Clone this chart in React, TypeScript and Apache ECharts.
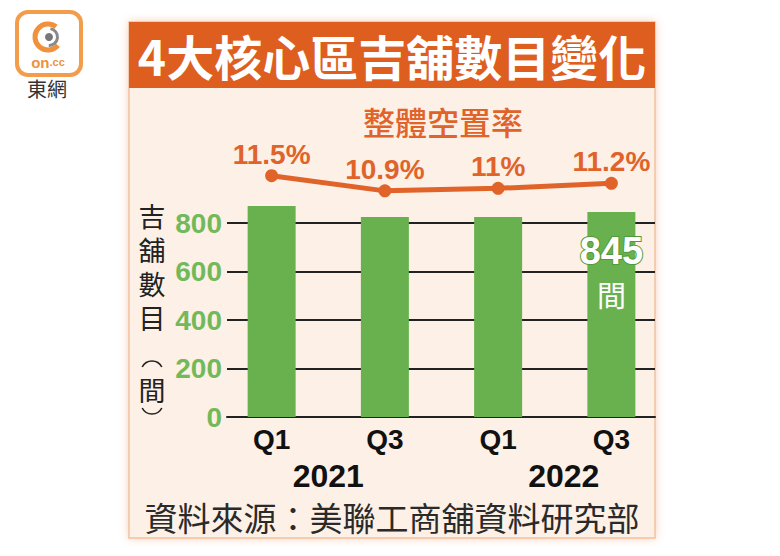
import React, { useEffect, useRef } from "react";
import * as echarts from "echarts";

const categories = ["Q1", "Q3", "Q1", "Q3"];
const years = ["2021", "2022"];
const shopCounts = [870, 825, 825, 845];
const vacancyRates = [11.5, 10.9, 11, 11.2];
const vacancyLabels = ["11.5%", "10.9%", "11%", "11.2%"];
const yMin = 0;
const yMax = 800;
const yStep = 200;
const highlightIndex = 3;
const highlightUnit = "間";

const titleText = "4大核心區吉舖數目變化";
const lineTitle = "整體空置率";
const axisNameChars = ["吉", "舖", "數", "目"];
const axisUnit = "間";
const sourceText = "資料來源：美聯工商舖資料研究部";

const ORANGE = "#dd5e1f";
const LINE_ORANGE = "#e0632a";
const GREEN = "#69b14f";
const LABEL_GREEN = "#72b95a";
const CJK = '"Noto Sans CJK TC", "Noto Sans CJK SC", sans-serif';
const LAT = '"Liberation Sans", Arial, sans-serif';

export default function App() {
  const ref = useRef<HTMLDivElement>(null);
  useEffect(() => {
    document.body.style.margin = "0";
    if (!ref.current) return;
    const chart = echarts.init(ref.current, undefined, { renderer: "svg" });
    const barData = shopCounts.map((v, i) =>
      i === highlightIndex
        ? {
            value: v,
            label: {
              show: true,
              position: "insideTop",
              distance: 18,
              formatter: "{a|" + v + "}\n{b|" + highlightUnit + "}",
              rich: {
                a: {
                  fontFamily: LAT,
                  fontWeight: "bold",
                  fontSize: 38,
                  lineHeight: 42,
                  color: "#fff",
                  textBorderColor: "#4f9a3a",
                  textBorderWidth: 2,
                  align: "center",
                },
                b: {
                  fontFamily: CJK,
                  fontSize: 29,
                  lineHeight: 44,
                  color: "#fff",
                  align: "center",
                },
              },
            },
          }
        : v
    );
    const axisNameTexts = axisNameChars.map((c, i) => ({
      type: "text",
      z: 5,
      x: 152,
      y: 215 + i * 34,
      style: {
        text: c,
        fill: "#222",
        font: "27px " + CJK,
        align: "center",
        verticalAlign: "middle",
      },
    }));
    const yearStyle = {
      fontFamily: LAT,
      fontWeight: "bold",
      fontSize: 32,
      color: "#111",
    };
    chart.setOption({
      animation: false,
      backgroundColor: "#ffffff",
      grid: [
        { left: 215, right: 112, top: 223, bottom: 139 },
        { left: 227, right: 125, top: 223, bottom: 139 },
        { left: 215, right: 112, top: 163, bottom: 355 },
        { left: 215, right: 112, top: 223, bottom: 139 },
      ],
      xAxis: [
        {
          type: "category",
          gridIndex: 0,
          data: categories,
          axisLine: { show: false },
          axisTick: { show: false },
          axisLabel: {
            margin: 8,
            fontFamily: LAT,
            fontWeight: "bold",
            fontSize: 28,
            color: "#111",
          },
        },
        {
          type: "value",
          gridIndex: 1,
          min: 0,
          max: 1,
          axisLine: { show: true, onZero: false, lineStyle: { color: "#222", width: 2 } },
          axisTick: { show: false },
          axisLabel: { show: false },
          splitLine: { show: false },
        },
        { type: "category", gridIndex: 2, data: categories, show: false },
        {
          type: "category",
          gridIndex: 3,
          data: years,
          axisLine: { show: false },
          axisTick: { show: false },
          axisLabel: {
            margin: 43,
            formatter: (v: string, i: number) => (i === 0 ? "{a|" + v + "}" : "{b|" + v + "}"),
            rich: {
              a: { ...yearStyle },
              b: { ...yearStyle, padding: [0, 0, 0, 18] },
            },
          },
        },
      ],
      yAxis: [
        { type: "value", gridIndex: 0, min: yMin, max: yMax, show: false },
        {
          type: "value",
          gridIndex: 1,
          min: yMin,
          max: yMax,
          interval: yStep,
          axisLine: { show: false },
          axisTick: { show: false },
          axisLabel: {
            margin: 5,
            fontFamily: LAT,
            fontWeight: "bold",
            fontSize: 28,
            color: LABEL_GREEN,
          },
          splitLine: { show: true, lineStyle: { color: "#222", width: 2 } },
        },
        { type: "value", gridIndex: 2, min: 10.5, max: 12, show: false },
        { type: "value", gridIndex: 3, min: 0, max: 1, show: false },
      ],
      series: [
        {
          type: "bar",
          xAxisIndex: 0,
          yAxisIndex: 0,
          data: barData,
          barWidth: 48,
          clip: false,
          itemStyle: { color: GREEN },
          z: 3,
        },
        {
          type: "line",
          xAxisIndex: 2,
          yAxisIndex: 2,
          data: vacancyRates,
          symbol: "circle",
          symbolSize: 13,
          clip: false,
          lineStyle: { color: LINE_ORANGE, width: 5 },
          itemStyle: { color: LINE_ORANGE },
          label: {
            show: true,
            position: "top",
            distance: 1,
            formatter: (p: any) => vacancyLabels[p.dataIndex],
            fontFamily: LAT,
            fontWeight: "bold",
            fontSize: 28,
            color: LINE_ORANGE,
          },
          z: 4,
        },
      ],
      graphic: [
        {
          type: "rect",
          z: -10,
          shape: { x: 129, y: 22, width: 526, height: 516 },
          style: {
            fill: "#fdf0e6",
            stroke: "#f2c2a0",
            lineWidth: 1.5,
            shadowBlur: 8,
            shadowColor: "rgba(240,150,100,0.45)",
          },
        },
        {
          type: "rect",
          z: -9,
          shape: { x: 129, y: 22, width: 526, height: 66 },
          style: { fill: ORANGE },
        },
        {
          type: "text",
          z: 5,
          x: 392,
          y: 55,
          style: {
            text: titleText,
            fill: "#fff",
            font: "bold 48px " + CJK,
            align: "center",
            verticalAlign: "middle",
          },
        },
        {
          type: "text",
          z: 5,
          x: 443,
          y: 121,
          style: {
            text: lineTitle,
            fill: LINE_ORANGE,
            font: "500 32px " + CJK,
            align: "center",
            verticalAlign: "middle",
          },
        },
        ...axisNameTexts,
        {
          type: "arc",
          z: 5,
          shape: { cx: 152, cy: 372, r: 11, startAngle: Math.PI * 1.15, endAngle: Math.PI * 1.85 },
          style: { stroke: "#222", lineWidth: 1.6, fill: null },
        },
        {
          type: "text",
          z: 5,
          x: 152,
          y: 389,
          style: {
            text: axisUnit,
            fill: "#222",
            font: "27px " + CJK,
            align: "center",
            verticalAlign: "middle",
          },
        },
        {
          type: "arc",
          z: 5,
          shape: { cx: 152, cy: 403, r: 11, startAngle: Math.PI * 0.15, endAngle: Math.PI * 0.85 },
          style: { stroke: "#222", lineWidth: 1.6, fill: null },
        },
        {
          type: "text",
          z: 5,
          x: 392,
          y: 517,
          style: {
            text: sourceText,
            fill: "#2a2a2a",
            font: "33px " + CJK,
            align: "center",
            verticalAlign: "middle",
          },
        },
        {
          type: "group",
          z: 5,
          children: [
            {
              type: "rect",
              shape: { x: 17, y: 12, width: 64, height: 63, r: 11 },
              style: { fill: "#fff", stroke: "#f29c4c", lineWidth: 4 },
            },
            {
              type: "arc",
              shape: { cx: 48, cy: 37, r: 13, startAngle: 0.7, endAngle: Math.PI * 2 - 0.9 },
              style: { stroke: "#f0913c", lineWidth: 5, fill: null },
            },
            {
              type: "arc",
              shape: { cx: 49, cy: 37, r: 8.5, startAngle: -1.4, endAngle: 1.6 },
              style: { stroke: "#8a8a8a", lineWidth: 3, fill: null },
            },
            {
              type: "circle",
              shape: { cx: 49, cy: 37, r: 4 },
              style: { fill: "#777" },
            },
            {
              type: "text",
              x: 48,
              y: 62,
              style: {
                text: "{a|on}{b|.cc}",
                align: "center",
                verticalAlign: "middle",
                rich: {
                  a: { fontFamily: LAT, fontWeight: "bold", fontSize: 15, fill: "#f0913c" },
                  b: { fontFamily: LAT, fontWeight: "bold", fontSize: 11, fill: "#f0913c" },
                },
              },
            },
            {
              type: "text",
              x: 47,
              y: 88,
              style: {
                text: "東網",
                fill: "#333",
                font: "20px " + CJK,
                align: "center",
                verticalAlign: "middle",
              },
            },
          ],
        },
      ],
    });
    return () => chart.dispose();
  }, []);
  return <div ref={ref} style={{ width: 780, height: 556 }} />;
}
